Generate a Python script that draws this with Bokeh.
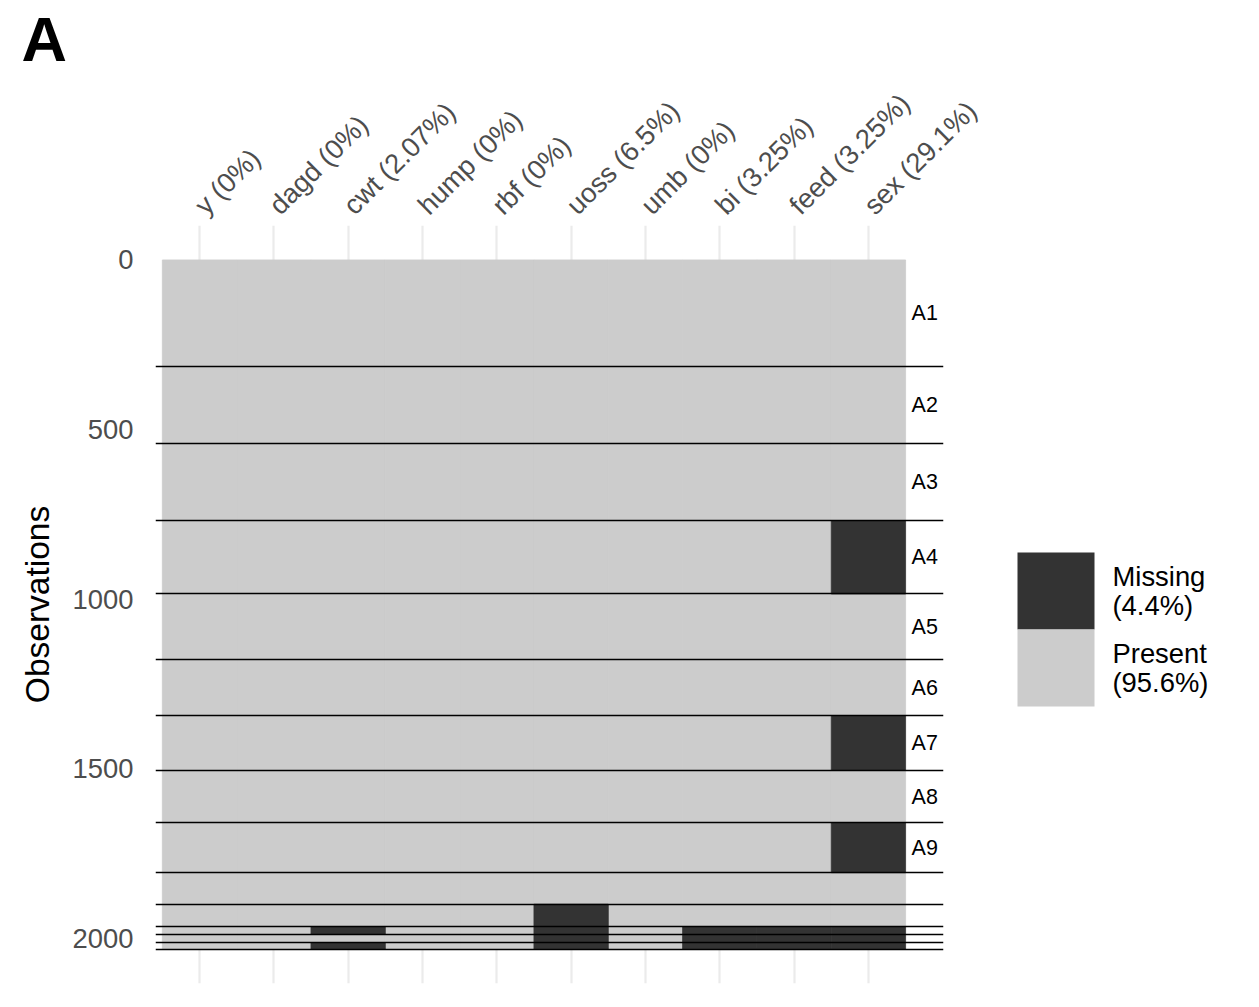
import math
from bokeh.plotting import figure
from bokeh.models import Range1d, FixedTicker, ColumnDataSource
from bokeh.layouts import row
from bokeh.embed import file_html
from bokeh.resources import INLINE
from bokeh.core.properties import value

# ---------------- data ----------------
variables = ["y", "dagd", "cwt", "hump", "rbf", "uoss", "umb", "bi", "feed", "sex"]
var_labels = ["y (0%)", "dagd (0%)", "cwt (2.07%)", "hump (0%)", "rbf (0%)",
              "uoss (6.5%)", "umb (0%)", "bi (3.25%)", "feed (3.25%)", "sex (29.1%)"]
block_sizes = [313, 228, 227, 216, 194, 164, 162, 154, 147, 93, 66, 23, 24, 19]
block_labels = ["A1", "A2", "A3", "A4", "A5", "A6", "A7", "A8", "A9", "", "", "", "", ""]
block_missing = [[], [], [], ["sex"], [], [], ["sex"], [], ["sex"], [],
                 ["uoss"],
                 ["cwt", "uoss", "bi", "feed", "sex"],
                 ["uoss", "bi", "feed", "sex"],
                 ["cwt", "uoss", "bi", "feed", "sex"]]
y_ticks = [0, 500, 1000, 1500, 2000]
legend_names = [["Missing", "(4.4%)"], ["Present", "(95.6%)"]]
panel_tag = "A"

MISS = "#333333"
PRES = "#cccccc"
FONT = "Liberation Sans"

N = sum(block_sizes)
starts = []
acc = 0
for s in block_sizes:
    starts.append(acc)
    acc += s

# cells: merge consecutive blocks of equal status per column
cells = dict(left=[], right=[], top=[], bottom=[], color=[])
for j, v in enumerate(variables):
    run_start = None
    run_state = None
    for b, s in enumerate(block_sizes):
        st = v in block_missing[b]
        if run_state is None:
            run_start, run_state = starts[b], st
        elif st != run_state:
            cells["left"].append(j + 0.5); cells["right"].append(j + 1.5)
            cells["top"].append(run_start + 0.5); cells["bottom"].append(starts[b] + 0.5)
            cells["color"].append(MISS if run_state else PRES)
            run_start, run_state = starts[b], st
    cells["left"].append(j + 0.5); cells["right"].append(j + 1.5)
    cells["top"].append(run_start + 0.5); cells["bottom"].append(N + 0.5)
    cells["color"].append(MISS if run_state else PRES)

order = sorted(range(len(cells["color"])), key=lambda i: cells["color"][i] == MISS)
cells = {k: [cells[k][i] for i in order] for k in cells}

bounds = [st + sz + 0.5 for st, sz in zip(starts, block_sizes)]
lab_y = [st + sz / 2 + 0.5 for st, sz in zip(starts, block_sizes)]

# layout geometry (pixels)
FL, FT, FW, FH = 155, 225, 788, 758
MAIN_W, TOT_W, TOT_H = 993, 1259, 999
X0, X1 = 0.408, 11.01

pad = 0.05 * N
Y_BOT, Y_TOP = N + 0.5 + pad, 0.5 - pad
p = figure(width=MAIN_W, height=TOT_H, output_backend="svg", toolbar_location=None,
           x_range=Range1d(X0, X1), y_range=Range1d(Y_BOT, Y_TOP),
           x_axis_location="above", min_border_left=FL, min_border_right=MAIN_W - FL - FW,
           min_border_top=FT, min_border_bottom=TOT_H - FT - FH, title=panel_tag)
p.outline_line_color = None
p.background_fill_color = "white"
p.title.text_font = FONT
p.title.text_font_size = "63px"
p.title.text_font_style = "bold"
p.title.text_color = "black"
p.title.align = "left"
p.title.offset = 21 - FL
p.title.standoff = 0

p.quad(left="left", right="right", top="top", bottom="bottom", source=ColumnDataSource(cells),
       fill_color="color", line_color="color", line_width=0.8)
p.hspan(y=bounds, line_color="black", line_width=1.7)
p.text(x=[10.58] * len(block_labels), y=lab_y, text=block_labels,
       text_font=value(FONT), text_font_size="21.5px", text_align="left",
       text_baseline="middle", text_color="black")

xt = FixedTicker(ticks=list(range(1, len(variables) + 1)))
p.xaxis.ticker = xt
p.xaxis.major_label_overrides = {i + 1: lab for i, lab in enumerate(var_labels)}
p.xaxis.major_label_orientation = math.pi / 4
p.yaxis.ticker = FixedTicker(ticks=y_ticks)
p.yaxis.axis_label = "Observations"
for ax in (p.xaxis, p.yaxis):
    ax.axis_line_color = None
    ax.major_tick_line_color = None
    ax.minor_tick_line_color = None
    ax.major_tick_out = 0
    ax.major_tick_in = 0
    ax.major_label_text_font = FONT
    ax.major_label_text_font_size = "27.4px"
    ax.major_label_text_color = "#4d4d4d"
p.yaxis.major_label_standoff = 22
p.xaxis.major_label_standoff = 16
p.yaxis.axis_label_text_font = FONT
p.yaxis.axis_label_text_font_size = "33.5px"
p.yaxis.axis_label_text_font_style = "normal"
p.yaxis.axis_label_text_color = "black"
p.yaxis.axis_label_standoff = 14

p.xgrid.ticker = xt
p.xgrid.grid_line_color = "#ebebeb"
p.xgrid.grid_line_width = 2.2
p.ygrid.visible = False

# ---------------- legend figure (coordinates = page pixels) ----------------
LW = TOT_W - MAIN_W
leg = figure(width=LW, height=TOT_H, output_backend="svg", toolbar_location=None,
             x_range=Range1d(MAIN_W, TOT_W), y_range=Range1d(FT + FH, FT),
             x_axis_location=None, y_axis_location=None, min_border=0,
             min_border_top=FT, min_border_bottom=TOT_H - FT - FH)
leg.outline_line_color = None
leg.xgrid.visible = False
leg.ygrid.visible = False
key = 77
kx, ky = 1017, 552
leg.quad(left=[kx, kx], right=[kx + key, kx + key], top=[ky, ky + key],
         bottom=[ky + key, ky + 2 * key], fill_color=[MISS, PRES], line_color=None)
tx, ty, tl = [], [], []
for i, lines in enumerate(legend_names):
    for k, t in enumerate(lines):
        tx.append(kx + key + 18)
        ty.append(ky + 23.7 + i * key + k * 29.5)
        tl.append(t)
leg.text(x=tx, y=ty, text=tl, text_font=value(FONT), text_font_size="27.4px",
         text_align="left", text_baseline="alphabetic", text_color="black")

layout = row(p, leg)
open("out.html", "w").write(file_html(layout, INLINE))
